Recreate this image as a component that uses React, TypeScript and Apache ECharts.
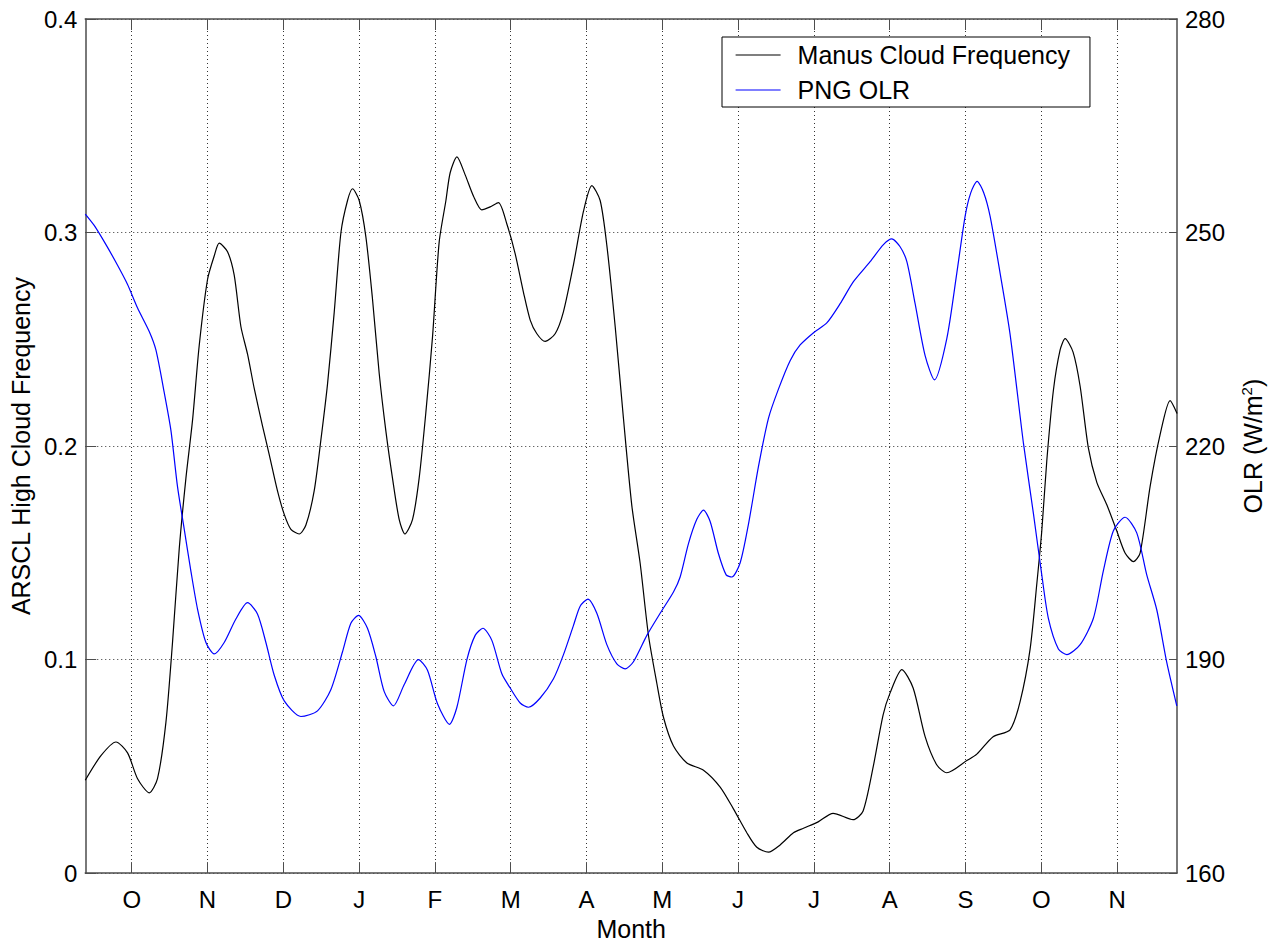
import React, { useEffect, useRef } from "react";
import * as echarts from "echarts";

const monthTicks = [1, 2, 3, 4, 5, 6, 7, 8, 9, 10, 11, 12, 13, 14];
const monthLabels = ["O", "N", "D", "J", "F", "M", "A", "M", "J", "J", "A", "S", "O", "N"];
const cloudTicks = [0, 0.1, 0.2, 0.3, 0.4];
const olrTicks = [160, 190, 220, 250, 280];

const cloudFreq: [number, number][] = [
  [0.387, 0.0435], [0.594, 0.055], [0.792, 0.0614], [0.945, 0.0563], [1.077, 0.0442], [1.231, 0.0376],
  [1.34, 0.0442], [1.451, 0.0706], [1.538, 0.108], [1.627, 0.152], [1.715, 0.185], [1.802, 0.212],
  [1.89, 0.247], [2.0, 0.278], [2.088, 0.289], [2.154, 0.295], [2.264, 0.291], [2.352, 0.28],
  [2.44, 0.256], [2.528, 0.243], [2.616, 0.227], [2.725, 0.2095], [2.814, 0.196], [2.923, 0.179],
  [3.012, 0.168], [3.1, 0.161], [3.209, 0.1588], [3.298, 0.163], [3.407, 0.179], [3.496, 0.203],
  [3.583, 0.229], [3.671, 0.2625], [3.76, 0.3], [3.847, 0.315], [3.913, 0.3205], [4.001, 0.315],
  [4.089, 0.298], [4.176, 0.269], [4.265, 0.234], [4.353, 0.207], [4.44, 0.185], [4.529, 0.1655],
  [4.604, 0.1588], [4.704, 0.1655], [4.792, 0.185], [4.881, 0.216], [4.968, 0.251], [5.056, 0.2955],
  [5.145, 0.315], [5.201, 0.328], [5.29, 0.3354], [5.399, 0.327], [5.509, 0.317], [5.619, 0.3106],
  [5.729, 0.312], [5.838, 0.314], [5.949, 0.304], [6.059, 0.29], [6.168, 0.272], [6.257, 0.259],
  [6.345, 0.2526], [6.454, 0.249], [6.586, 0.2526], [6.696, 0.263], [6.828, 0.285], [6.96, 0.31],
  [7.07, 0.322], [7.18, 0.315], [7.268, 0.294], [7.378, 0.256], [7.487, 0.213], [7.598, 0.172],
  [7.708, 0.145], [7.817, 0.1114], [7.928, 0.0888], [8.015, 0.073], [8.147, 0.0595], [8.324, 0.0516],
  [8.543, 0.0482], [8.763, 0.0403], [8.938, 0.0301], [9.115, 0.0189], [9.247, 0.0121], [9.4, 0.0098],
  [9.554, 0.0132], [9.73, 0.0189], [9.862, 0.021], [10.056, 0.024], [10.253, 0.028], [10.517, 0.025],
  [10.649, 0.0291], [10.781, 0.0496], [10.913, 0.0741], [11.005, 0.0844], [11.16, 0.0953], [11.309, 0.0867],
  [11.467, 0.0639], [11.622, 0.0506], [11.753, 0.047], [12.017, 0.0527], [12.149, 0.0557], [12.364, 0.0639],
  [12.588, 0.0671], [12.72, 0.0803], [12.852, 0.1049], [12.941, 0.1356], [13.006, 0.1602], [13.072, 0.193],
  [13.159, 0.226], [13.248, 0.245], [13.314, 0.2503], [13.419, 0.244], [13.512, 0.228], [13.621, 0.199],
  [13.732, 0.183], [13.864, 0.1725], [13.996, 0.1602], [14.105, 0.1499], [14.215, 0.1459], [14.303, 0.1499],
  [14.435, 0.181], [14.567, 0.2053], [14.699, 0.2213], [14.791, 0.2153],
];

const pngOlr: [number, number][] = [
  [0.387, 252.6], [0.505, 251.0], [0.66, 248.3], [0.813, 245.4], [0.945, 242.7], [1.077, 239.4],
  [1.231, 236.1], [1.319, 233.5], [1.429, 227.5], [1.517, 222.2], [1.604, 214.3], [1.693, 208.3],
  [1.781, 202.4], [1.868, 197.1], [1.979, 192.4], [2.088, 190.8], [2.22, 192.4], [2.374, 195.7],
  [2.528, 198.0], [2.659, 196.4], [2.77, 192.4], [2.88, 187.8], [3.012, 184.2], [3.232, 182.0],
  [3.451, 182.8], [3.628, 185.8], [3.781, 191.1], [3.891, 195.1], [3.992, 196.2], [4.11, 194.4],
  [4.221, 190.4], [4.331, 185.5], [4.453, 183.5], [4.595, 186.5], [4.783, 190.0], [4.902, 188.5],
  [5.034, 183.8], [5.192, 180.9], [5.29, 183.3], [5.422, 190.0], [5.531, 193.4], [5.633, 194.4],
  [5.751, 192.7], [5.883, 188.0], [5.993, 186.0], [6.125, 183.9], [6.234, 183.3], [6.389, 184.6],
  [6.564, 187.3], [6.696, 190.7], [6.828, 194.8], [6.916, 197.5], [7.018, 198.5], [7.136, 196.5],
  [7.268, 192.1], [7.4, 189.4], [7.51, 188.7], [7.619, 189.7], [7.796, 193.4], [7.971, 196.5],
  [8.147, 199.5], [8.235, 201.6], [8.345, 206.3], [8.455, 209.7], [8.543, 211.0], [8.631, 209.4],
  [8.74, 204.9], [8.842, 201.9], [8.917, 201.6], [9.027, 203.6], [9.136, 209.0], [9.268, 217.1],
  [9.4, 223.9], [9.532, 228.0], [9.686, 232.0], [9.818, 234.2], [10.003, 236.0], [10.17, 237.3],
  [10.346, 240.0], [10.521, 243.1], [10.741, 245.9], [10.917, 248.3], [11.028, 249.1], [11.137, 248.0],
  [11.226, 245.9], [11.335, 240.0], [11.467, 232.7], [11.59, 229.3], [11.753, 235.1], [11.885, 244.3],
  [11.995, 252.3], [12.07, 255.6], [12.153, 257.2], [12.24, 255.6], [12.324, 252.3], [12.456, 244.3],
  [12.588, 235.7], [12.764, 220.4], [12.896, 210.5], [13.006, 201.9], [13.093, 195.8], [13.225, 191.5],
  [13.336, 190.7], [13.512, 192.1], [13.687, 195.8], [13.819, 202.5], [13.951, 208.1], [14.105, 210.0],
  [14.259, 207.8], [14.391, 201.9], [14.523, 197.0], [14.655, 189.6], [14.787, 183.5],
];

const X_MIN = 0.387;
const X_MAX = 14.79;

export default function App() {
  const ref = useRef<HTMLDivElement>(null);

  useEffect(() => {
    if (!ref.current) return;
    const chart = echarts.init(ref.current, null, { renderer: "svg" });
    const font = "'Liberation Sans', Arial, Helvetica, sans-serif";
    const axisColor = "#4d4d4d";
    const axisLine = { show: true, lineStyle: { color: axisColor, width: 1.5 } };
    const gridLine = { show: true, lineStyle: { color: "#333", type: [1, 3], width: 1 } };
    const labelStyle = { color: "#000", fontSize: 24, fontFamily: font };
    const nameStyle = { color: "#000", fontSize: 25, fontFamily: font };

    chart.setOption({
      animation: false,
      backgroundColor: "#fff",
      grid: { left: 85, top: 19, width: 1092, height: 860, containLabel: false },
      legend: {
        orient: "vertical",
        left: 722,
        top: 37,
        itemWidth: 45,
        itemHeight: 26,
        itemGap: 9,
        padding: [5, 20, 4, 13],
        borderColor: "#000",
        borderWidth: 1,
        borderRadius: 0,
        backgroundColor: "#fff",
        itemStyle: { opacity: 0 },
        lineStyle: { width: 1.2 },
        textStyle: { ...nameStyle, lineHeight: 26, padding: [0, 0, 0, 12] },
        data: ["Manus Cloud Frequency", "PNG OLR"],
      },
      xAxis: [
        {
          type: "value",
          position: "bottom",
          min: X_MIN,
          max: X_MAX,
          axisLine,
          axisTick: { show: true, inside: true, length: 11, customValues: monthTicks, lineStyle: { color: axisColor, width: 1 } },
          axisLabel: {
            ...labelStyle,
            margin: 14,
            customValues: monthTicks,
            formatter: (v: number) => monthLabels[Math.round(v) - 1] ?? "",
          },
          splitLine: gridLine,
          name: "Month",
          nameLocation: "middle",
          nameGap: 41,
          nameTextStyle: nameStyle,
        },
        {
          type: "value",
          position: "top",
          min: X_MIN,
          max: X_MAX,
          axisLine,
          axisTick: { show: true, inside: true, length: 11, customValues: monthTicks, lineStyle: { color: axisColor, width: 1 } },
          axisLabel: { show: false },
          splitLine: { show: false },
        },
      ],
      yAxis: [
        {
          type: "value",
          position: "left",
          min: cloudTicks[0],
          max: cloudTicks[cloudTicks.length - 1],
          interval: 0.1,
          axisLine,
          axisTick: { show: true, inside: true, length: 11, lineStyle: { color: axisColor, width: 1 } },
          axisLabel: {
            ...labelStyle,
            margin: 8,
            formatter: (v: number) => (Math.abs(v) < 1e-9 ? "0" : v.toFixed(1)),
          },
          splitLine: gridLine,
          name: "ARSCL High Cloud Frequency",
          nameLocation: "middle",
          nameGap: 46,
          nameTextStyle: nameStyle,
        },
        {
          type: "value",
          position: "right",
          min: olrTicks[0],
          max: olrTicks[olrTicks.length - 1],
          interval: 30,
          axisLine,
          axisTick: { show: true, inside: true, length: 8, lineStyle: { color: axisColor, width: 1 } },
          axisLabel: { ...labelStyle, margin: 8 },
          splitLine: { show: false },
          name: "OLR (W/m{sup|2})",
          nameLocation: "middle",
          nameGap: 62,
          nameTextStyle: {
            ...nameStyle,
            rich: { sup: { fontSize: 15, fontFamily: font, color: "#000", verticalAlign: "top", lineHeight: 28 } },
          },
        },
      ],
      series: [
        {
          name: "Manus Cloud Frequency",
          type: "line",
          xAxisIndex: 0,
          yAxisIndex: 0,
          data: cloudFreq,
          symbol: "none",
          smooth: 0.25,
          lineStyle: { color: "#000", width: 1.2 },
          itemStyle: { color: "#000" },
        },
        {
          name: "PNG OLR",
          type: "line",
          xAxisIndex: 0,
          yAxisIndex: 1,
          data: pngOlr,
          symbol: "none",
          smooth: 0.25,
          lineStyle: { color: "#0000ff", width: 1.2 },
          itemStyle: { color: "#0000ff" },
        },
      ],
    });

    return () => chart.dispose();
  }, []);

  return (
    <div
      ref={ref}
      style={{ position: "fixed", left: 0, top: 0, width: 1275, height: 946, background: "#fff" }}
    />
  );
}
